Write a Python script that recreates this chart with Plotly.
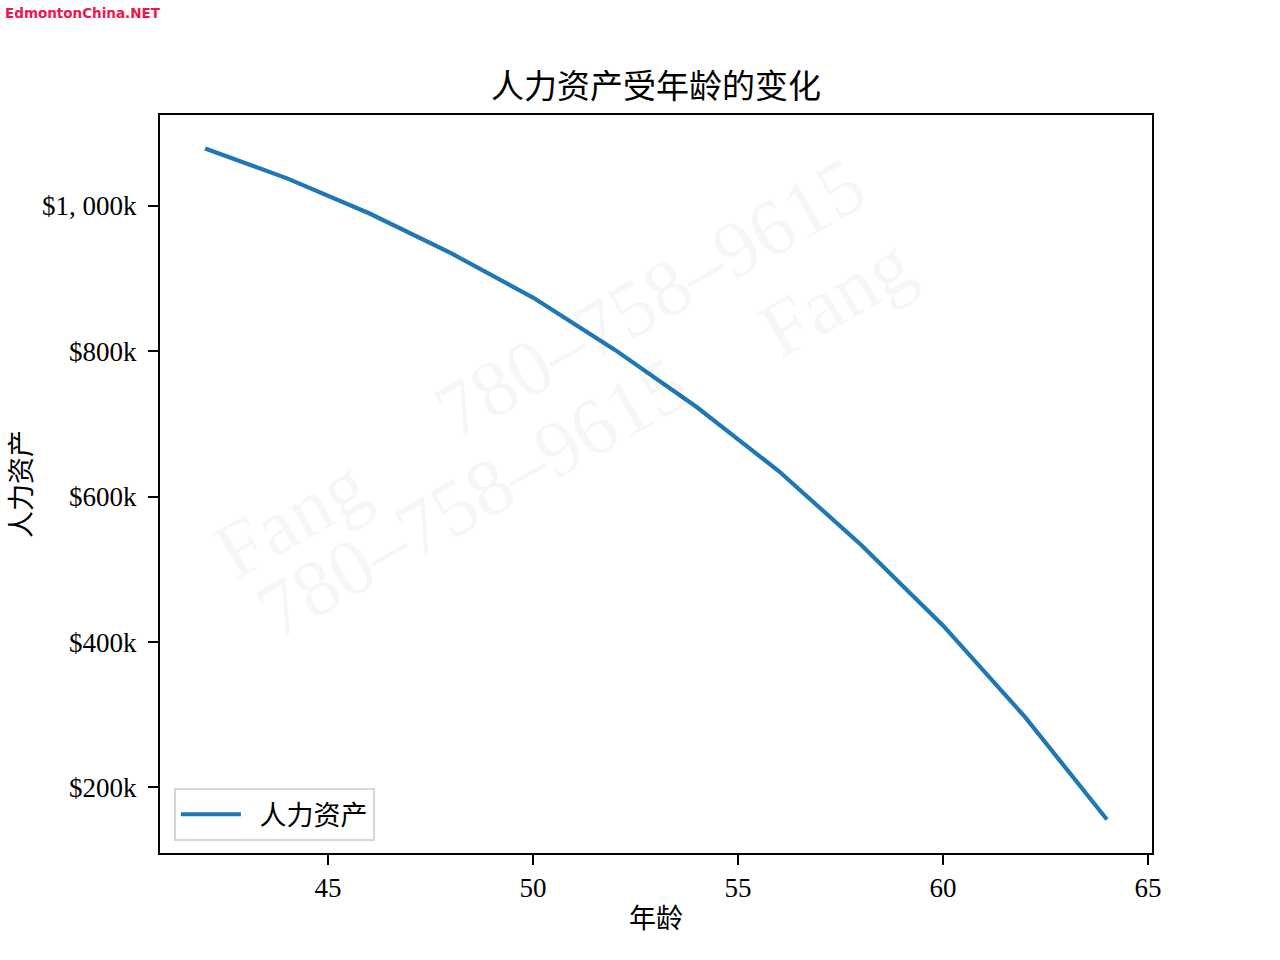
import plotly.graph_objects as go

# Data (ages and human capital in $ thousands)
ages = [42, 44, 46, 48, 50, 52, 54, 56, 58, 60, 62, 64]
human_capital_k = [1079, 1038, 990, 935, 874, 802, 723, 635, 534, 423, 297, 156]

x_tick_vals = [45, 50, 55, 60, 65]
x_tick_text = ["45", "50", "55", "60", "65"]
y_tick_vals = [200, 400, 600, 800, 1000]
y_tick_text = ["$200k", "$400k", "$600k", "$800k", "$1, 000k"]

series_name = "人力资产"
title_text = "人力资产受年龄的变化"
x_title = "年龄"
y_title = "人力资产"

SERIF = "Liberation Serif, Noto Sans CJK SC, serif"
BLUE = "#1f77b4"

# matplotlib-like 5% margins
xmin, xmax = min(ages), max(ages)
ymin, ymax = min(human_capital_k), max(human_capital_k)
xpad = (xmax - xmin) * 0.05
ypad = (ymax - ymin) * 0.05

fig = go.Figure()
fig.add_trace(go.Scatter(
    x=ages, y=human_capital_k, mode="lines", name="\u00a0\u00a0" + series_name,
    line=dict(color=BLUE, width=4.2),
))

axis_common = dict(
    showgrid=False, zeroline=False, showline=True, linecolor="black",
    linewidth=2, mirror=True, ticks="outside", ticklen=10, tickwidth=2,
    tickcolor="black", tickfont=dict(family=SERIF, size=27, color="black"),
    automargin=False,
)

fig.update_layout(
    width=1280, height=960,
    margin=dict(l=160, r=128, t=115, b=107),
    paper_bgcolor="white", plot_bgcolor="white",
    title=dict(text=title_text, x=656 / 1280, xanchor="center",
               y=1 - 86 / 960, yanchor="middle",
               font=dict(family=SERIF, size=33, color="black")),
    xaxis=dict(range=[xmin - xpad, xmax + xpad], tickmode="array",
               tickvals=x_tick_vals, ticktext=x_tick_text,
               title=dict(text=x_title, font=dict(family=SERIF, size=27, color="black"),
                          standoff=7),
               **axis_common),
    yaxis=dict(range=[ymin - ypad, ymax + ypad], tickmode="array",
               tickvals=y_tick_vals, ticktext=y_tick_text, ticklabelstandoff=6,
               title=dict(text=y_title, font=dict(family=SERIF, size=27, color="black"),
                          standoff=3),
               **axis_common),
    legend=dict(x=0.014, y=0.016, xanchor="left", yanchor="bottom",
                bgcolor="rgba(255,255,255,0.8)", bordercolor="#d6d6d6", borderwidth=2,
                font=dict(family=SERIF, size=27, color="black"), itemwidth=60),
    showlegend=True,
)

# Watermark text (faint, rotated)
wm_color = "rgba(0,0,0,0.035)"
wm = [("Fang", 0.132, 0.454), ("780–758–9615", 0.494, 0.752),
      ("780–758–9615", 0.315, 0.482), ("Fang", 0.681, 0.753)]
for txt, ax_, ay_ in wm:
    fig.add_annotation(text=txt, x=ax_, y=ay_, xref="paper", yref="paper",
                       xanchor="center", yanchor="middle",
                       showarrow=False, textangle=-30,
                       font=dict(family="Liberation Serif, serif", size=80, color=wm_color))

# Site stamp top-left
fig.add_annotation(text="<b>EdmontonChina.NET</b>", xref="paper", yref="paper",
                   x=(3 - 160) / 992, y=(853 - 13) / 738, xanchor="left", yanchor="middle",
                   showarrow=False,
                   font=dict(family="DejaVu Sans, sans-serif", size=13.5, color="#f0164a"))

fig.write_html("out.html", config={"displayModeBar": False},
               post_script="document.body.style.margin='0px';")
